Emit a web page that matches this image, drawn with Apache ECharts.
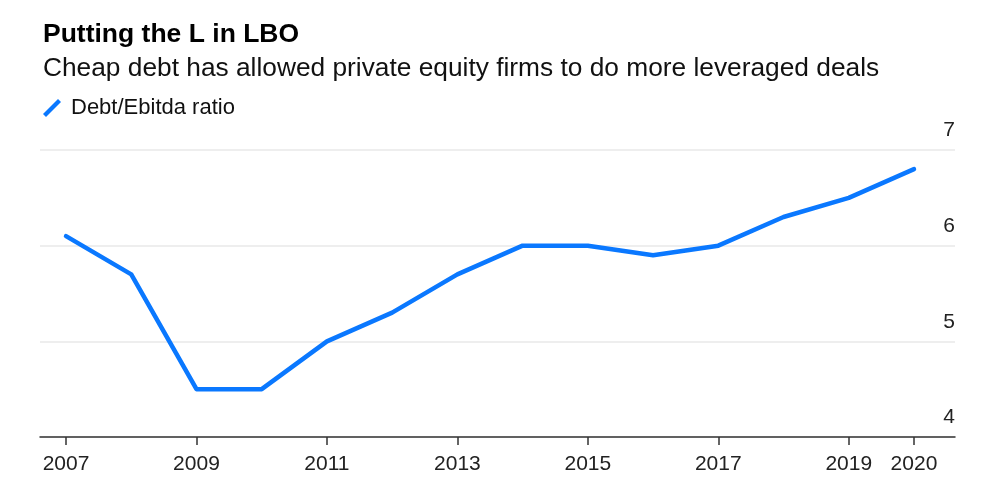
<!DOCTYPE html>
<html>
<head>
<meta charset="utf-8">
<script src="https://cdn.jsdelivr.net/npm/echarts@6/dist/echarts.min.js"></script>
<style>
html,body{margin:0;padding:0;background:#fff;}
#chart{width:990px;height:492px;}
</style>
</head>
<body>
<div id="chart"></div>
<script>
const titleText = "Putting the L in LBO";
const subtitleText = "Cheap debt has allowed private equity firms to do more leveraged deals";
const seriesName = "Debt/Ebitda ratio";
const years = [2007, 2008, 2009, 2010, 2011, 2012, 2013, 2014, 2015, 2016, 2017, 2018, 2019, 2020];
const ratio = [6.1, 5.7, 4.5, 4.5, 5.0, 5.3, 5.7, 6.0, 6.0, 5.9, 6.0, 6.3, 6.5, 6.8];
const xTickYears = [2007, 2009, 2011, 2013, 2015, 2017, 2019, 2020];
const yTicks = [4, 5, 6, 7];

const FONT = "Liberation Sans";
const chart = echarts.init(document.getElementById('chart'), null, {renderer: 'canvas'});
chart.setOption({
  animation: false,
  backgroundColor: '#fff',
  textStyle: {fontFamily: FONT},
  title: [
    {text: titleText, left: 38, top: 16, textStyle: {fontFamily: FONT, fontSize: 26.5, fontWeight: 'bold', color: '#000'}},
    {text: subtitleText, left: 38, top: 51, textStyle: {fontFamily: FONT, fontSize: 26.3, fontWeight: 'normal', color: '#111'}}
  ],
  legend: {
    left: 38, top: 92,
    itemWidth: 18, itemHeight: 18,
    icon: 'path://M0,15 L15,0 L18,3 L3,18 Z',
    textStyle: {fontFamily: FONT, fontSize: 22, color: '#111', padding: [0, 0, 0, 5]},
    data: [seriesName]
  },
  grid: {left: 40, right: 35, top: 150, bottom: 55, containLabel: false},
  xAxis: {
    type: 'value',
    min: 2006.601, max: 2020.629,
    axisLine: {show: true, lineStyle: {color: '#333', width: 1.5}},
    axisTick: {show: true, length: 8, customValues: xTickYears, lineStyle: {color: '#333', width: 1.5}},
    axisLabel: {customValues: xTickYears, formatter: v => String(v), fontFamily: FONT, fontSize: 21, color: '#222', margin: 17},
    splitLine: {show: false}
  },
  yAxis: {
    type: 'value',
    position: 'right',
    min: 4, max: 7, interval: 1,
    axisLine: {show: false},
    axisTick: {show: false},
    axisLabel: {inside: true, margin: 0, align: 'right', verticalAlign: 'bottom', padding: [0, 0, 9, 0], fontFamily: FONT, fontSize: 21, color: '#222',
      formatter: v => yTicks.includes(v) ? String(v) : ''},
    splitLine: {show: true, lineStyle: {color: '#e8e8e8', width: 1.5}}
  },
  series: [{
    name: seriesName,
    type: 'line',
    data: years.map((y, i) => [y, ratio[i]]),
    symbol: 'none',
    color: '#0a78ff',
    lineStyle: {width: 4.5, color: '#0a78ff', cap: 'round', join: 'round'}
  }]
});
</script>
</body>
</html>
